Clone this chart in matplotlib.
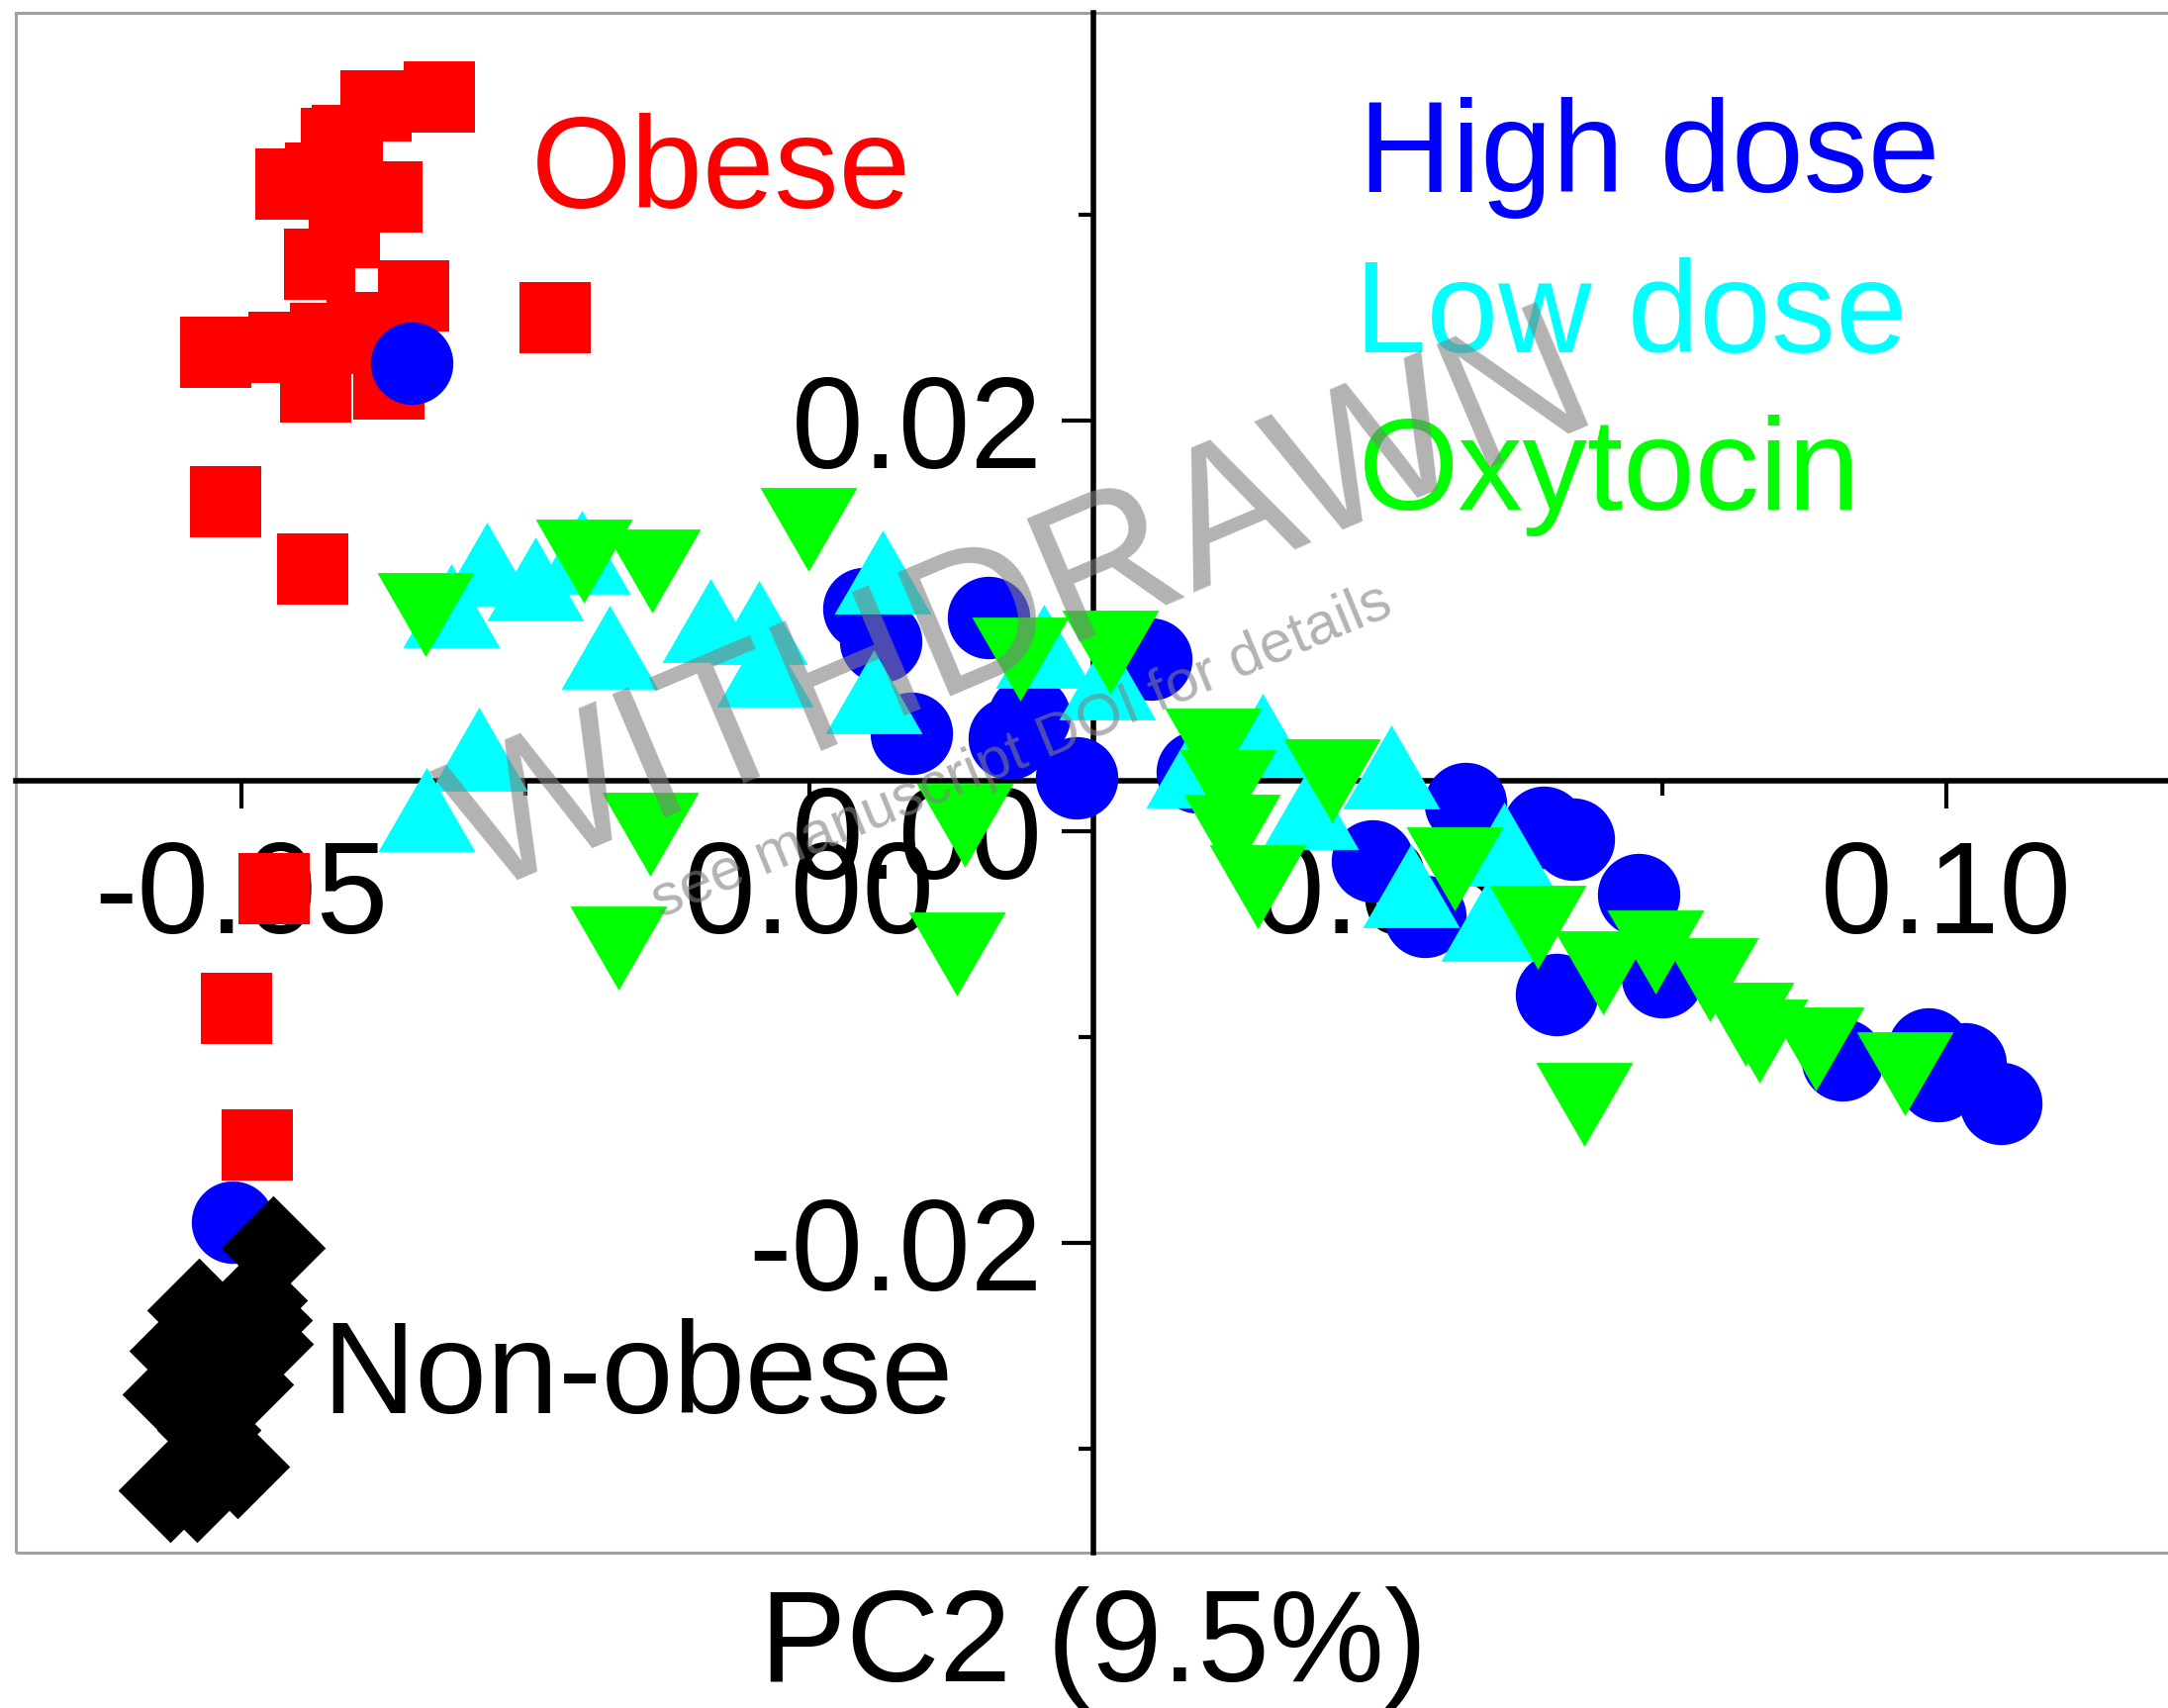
import matplotlib
matplotlib.use("Agg")
import matplotlib.pyplot as plt
from matplotlib.ticker import FixedLocator, FormatStrFormatter
from matplotlib.patches import Rectangle

plt.rcParams['font.family'] = ['Liberation Sans', 'DejaVu Sans']
plt.rcParams['axes.unicode_minus'] = False

# ---------------- data (PC2 on x, PC1-like on y) ----------------
obese_x = [-0.03258, -0.03809, -0.04160, -0.04067, -0.04564, -0.04297, -0.03716,
           -0.04308, -0.03482, -0.04256, -0.05226, -0.04623, -0.04346, -0.03700,
           -0.02233, -0.05136, -0.04369, -0.04708, -0.05043, -0.04856, -0.04090,
           -0.03930]
obese_y = [0.03573, 0.03530, 0.03346, 0.03363, 0.03152, 0.03179, 0.03090,
           0.02761, 0.02607, 0.02400, 0.02334, 0.02358, 0.02165, 0.02177,
           0.02501, 0.01605, 0.01278, -0.00279, -0.00858, -0.01523, 0.02916,
           0.02450]

high_x = [-0.03501, -0.05078, 0.00479, 0.00627, 0.00896, 0.01575, 0.01758, 0.01932,
          0.02350, 0.03003, 0.03412, 0.04952, 0.05413, 0.05770, 0.06458, 0.06719,
          0.07293, 0.06571, 0.07502, 0.09086, 0.09843, 0.10165, 0.10479, 0.09930]
high_y = [0.02279, -0.01901, 0.01085, 0.00927, 0.00479, 0.01042, 0.00455, 0.00561,
          0.00262, 0.00840, 0.00291, -0.00142, -0.00412, 0.00137, 0.00022, -0.00036,
          -0.00306, -0.00792, -0.00705, -0.01110, -0.01057, -0.01129, -0.01321, -0.01211]

low_x = [-0.02837, -0.02411, -0.02002, -0.01762, -0.00870, -0.00440, -0.00392,
         0.00648, 0.00562, -0.02907, -0.03368, -0.03151, 0.02067, 0.02623,
         0.03382, 0.03982, 0.05121, 0.04408, 0.05288, 0.05979, 0.06114]
low_y = [0.01302, 0.01232, 0.01360, 0.00898, 0.01028, 0.01018, 0.00811,
         0.01264, 0.00681, 0.00402, 0.00106, 0.01100, 0.00903, 0.00746,
         0.00319, 0.00469, 0.00315, 0.00120, -0.00262, -0.00427, -0.00059]

oxy_x = [-0.03381, -0.01987, -0.01384, -0.00009, -0.01404, -0.01676, 0.01300,
         0.01366, 0.01854, 0.02650, 0.03549, 0.03681, 0.03716, 0.03943, 0.04592,
         0.05675, 0.06406, 0.06980, 0.07441, 0.07920, 0.08233, 0.08351, 0.08851,
         0.09634, 0.06815]
oxy_y = [0.01057, 0.01314, 0.01268, 0.01471, -0.00012, -0.00565, -0.00597,
         0.00031, 0.00840, 0.00871, 0.00397, 0.00195, -0.00022, -0.00267, 0.00248,
         -0.00181, -0.00467, -0.00686, -0.00585, -0.00720, -0.00936, -0.01018,
         -0.01057, -0.01177, -0.01326]

nonob_x = [-0.04717, -0.04874, -0.04831, -0.04819, -0.05367, -0.05527, -0.05587,
           -0.05000, -0.05030, -0.05621, -0.05384, -0.05279]
nonob_y = [-0.02022, -0.02281, -0.02374, -0.02491, -0.02327, -0.02526, -0.02736,
           -0.02690, -0.03086, -0.03203, -0.03205, -0.02911]

x_major = [-0.05, 0.00, 0.05, 0.10]
x_minor = [-0.025, 0.025, 0.075]
y_major = [-0.02, 0.00, 0.02]
y_minor = [-0.03, -0.01, 0.01, 0.03]

group_labels = ["Obese", "High dose", "Low dose", "Oxytocin", "Non-obese"]
x_title = "PC2 (9.5%)"

RED, BLUE, CYAN, GREEN, BLACK = "#FF0000", "#0000FF", "#00FFFF", "#00FF00", "#000000"
FS = 94

# ---------------- figure ----------------
W, H = 2191, 1726
fig = plt.figure(figsize=(W / 100, H / 100), dpi=100)
fig.patch.set_facecolor("white")

left_px, right_px, top_px, bot_px = 16, 2200, 13, 1569
ax = fig.add_axes([left_px / W, 1 - bot_px / H, (right_px - left_px) / W, (bot_px - top_px) / H])
ax.set_xlim(-0.0698, 0.12028)
ax.set_ylim(-0.03507, 0.03983)

# frame
ax.add_patch(Rectangle((0, 0), 1, 1, transform=ax.transAxes, fill=False,
                       ec="#a0a0a0", lw=2.2, clip_on=False, zorder=0.5))
for s in ("top", "right"):
    ax.spines[s].set_visible(False)
ax.spines["left"].set_position(("data", 0.025))
ax.spines["bottom"].set_position(("data", 0.0025))
for s in ("left", "bottom"):
    ax.spines[s].set_linewidth(4)
    ax.spines[s].set_color("black")

ax.xaxis.set_major_locator(FixedLocator(x_major))
ax.xaxis.set_minor_locator(FixedLocator(x_minor))
ax.yaxis.set_major_locator(FixedLocator(y_major))
ax.yaxis.set_minor_locator(FixedLocator(y_minor))
ax.xaxis.set_major_formatter(FormatStrFormatter("%.2f"))
ax.yaxis.set_major_formatter(FormatStrFormatter("%.2f"))

ax.tick_params(axis="x", which="major", direction="out", length=20, width=3, pad=22, labelsize=FS)
ax.tick_params(axis="x", which="minor", direction="out", length=11, width=3)
ax.tick_params(axis="y", which="major", direction="out", length=23, width=3, pad=14, labelsize=FS)
ax.tick_params(axis="y", which="minor", direction="out", length=11, width=3)

# markers
tri_up = [(-1, -0.866), (1, -0.866), (0, 0.866)]
tri_dn = [(-1, 0.866), (1, 0.866), (0, -0.866)]
diamond = [(0, 1), (1, 0), (0, -1), (-1, 0)]

ax.plot(obese_x, obese_y, ls="none", marker="s", ms=51.5, mfc=RED, mew=0, zorder=3)
ax.plot(high_x, high_y, ls="none", marker="o", ms=60, mfc=BLUE, mew=0, zorder=4)
ax.plot(low_x, low_y, ls="none", marker=tri_up, ms=70.5, mfc=CYAN, mew=0, zorder=5)
ax.plot(oxy_x, oxy_y, ls="none", marker=tri_dn, ms=70.5, mfc=GREEN, mew=0, zorder=6)
ax.plot(nonob_x, nonob_y, ls="none", marker=diamond, ms=76, mfc=BLACK, mew=0, zorder=7)

def ftext(px, py, s, **kw):
    return fig.text(px / W, 1 - py / H, s, **kw)

ftext(537, 210, group_labels[0], color=RED, fontsize=FS, ha="left", va="baseline")
ftext(1373, 194, group_labels[1], color=BLUE, fontsize=FS, ha="left", va="baseline")
ftext(1369, 356, group_labels[2], color=CYAN, fontsize=FS, ha="left", va="baseline")
ftext(1373, 515, group_labels[3], color=GREEN, fontsize=FS, ha="left", va="baseline")
ftext(325, 1428, group_labels[4], color=BLACK, fontsize=FS, ha="left", va="baseline")
ftext(1105, 1699, x_title, color=BLACK, fontsize=FS, ha="center", va="baseline")

# watermark
ftext(485, 905, "WITHDRAWN", color="#808080", alpha=0.6, fontsize=141,
      rotation=23, rotation_mode="anchor", ha="left", va="baseline", zorder=20)
ftext(667, 928, "see manuscript DOI for details", color="#808080", alpha=0.6, fontsize=43,
      rotation=22.5, rotation_mode="anchor", ha="left", va="baseline", zorder=20)

fig.savefig("out.png", dpi=100, facecolor="white")
